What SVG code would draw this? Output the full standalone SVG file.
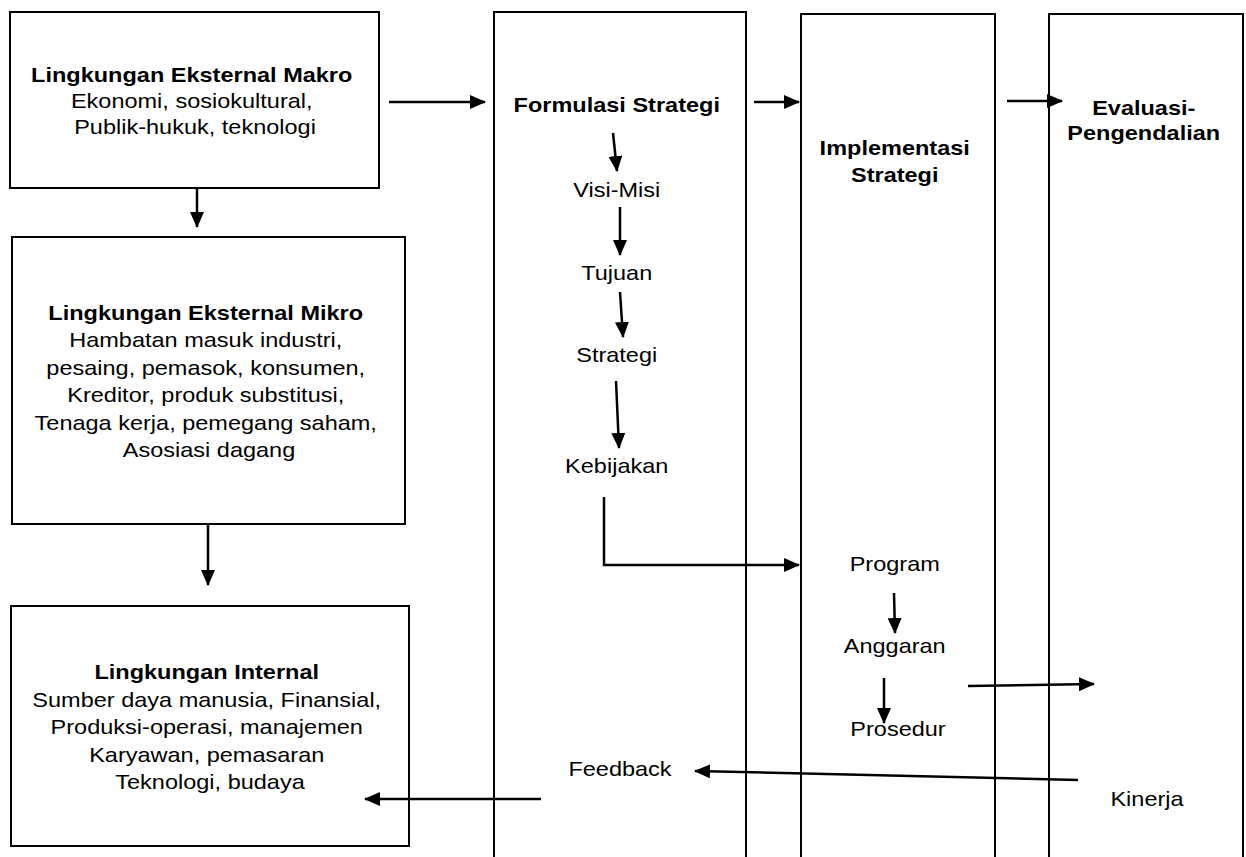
<svg xmlns="http://www.w3.org/2000/svg" width="1246" height="857" viewBox="0 0 1246 857">
<style>
  .box{fill:#fff;stroke:#000;stroke-width:2}
  .col{fill:none;stroke:#000;stroke-width:2}
  .t{font-family:"Liberation Sans",Arial,sans-serif;font-size:21px;fill:#000;text-anchor:middle}
  .b{font-weight:bold}
  .c{fill:none;stroke:#000;stroke-width:2.5}
</style>
<defs>
  <marker id="ah" markerUnits="userSpaceOnUse" markerWidth="16" markerHeight="14" refX="15" refY="7" orient="auto">
    <path d="M0,0 L16,7 L0,14 Z" fill="#000"/>
  </marker>
</defs>
<rect width="1246" height="857" fill="#fff"/>

<g id="makro">
  <rect class="box" x="10" y="12" width="369" height="176"/>
  <text class="t" transform="translate(195,0) scale(1.12,1)">
    <tspan class="b" x="0" y="82">Lingkungan Eksternal Makro</tspan>
    <tspan x="0" y="108">Ekonomi, sosiokultural,</tspan>
    <tspan x="0" y="134">Publik-hukuk, teknologi</tspan>
  </text>
</g>

<g id="mikro">
  <rect class="box" x="12" y="237" width="393" height="287"/>
  <text class="t" transform="translate(209,0) scale(1.12,1)">
    <tspan class="b" x="0" y="320">Lingkungan Eksternal Mikro</tspan>
    <tspan x="0" y="347.5">Hambatan masuk industri,</tspan>
    <tspan x="0" y="375">pesaing, pemasok, konsumen,</tspan>
    <tspan x="0" y="402.5">Kreditor, produk substitusi,</tspan>
    <tspan x="0" y="430">Tenaga kerja, pemegang saham,</tspan>
    <tspan x="0" y="457.5">Asosiasi dagang</tspan>
  </text>
</g>

<g id="internal">
  <rect class="box" x="11" y="606" width="398" height="240"/>
  <text class="t" transform="translate(210,0) scale(1.12,1)">
    <tspan class="b" x="0" y="679">Lingkungan Internal</tspan>
    <tspan x="0" y="707">Sumber daya manusia, Finansial,</tspan>
    <tspan x="0" y="734">Produksi-operasi, manajemen</tspan>
    <tspan x="0" y="762">Karyawan, pemasaran</tspan>
    <tspan x="0" y="789">Teknologi, budaya</tspan>
  </text>
</g>

<g id="formulasi">
  <path class="col" d="M494,857 V12 H746 V857"/>
  <text class="t" transform="translate(620,0) scale(1.12,1)">
    <tspan class="b" x="0" y="112">Formulasi Strategi</tspan>
    <tspan x="0" y="197">Visi-Misi</tspan>
    <tspan x="0" y="280">Tujuan</tspan>
    <tspan x="0" y="362">Strategi</tspan>
    <tspan x="0" y="473">Kebijakan</tspan>
    <tspan x="0" y="776">Feedback</tspan>
  </text>
</g>

<g id="implementasi">
  <path class="col" d="M801,857 V14 H995 V857"/>
  <text class="t" transform="translate(898,0) scale(1.12,1)">
    <tspan class="b" x="0" y="155">Implementasi</tspan>
    <tspan class="b" x="0" y="182">Strategi</tspan>
    <tspan x="0" y="571">Program</tspan>
    <tspan x="0" y="653">Anggaran</tspan>
    <tspan x="0" y="736">Prosedur</tspan>
  </text>
</g>

<g id="evaluasi">
  <path class="col" d="M1049,857 V14 H1243 V857"/>
  <text class="t" transform="translate(1147,0) scale(1.12,1)">
    <tspan class="b" x="0" y="115">Evaluasi-</tspan>
    <tspan class="b" x="0" y="140">Pengendalian</tspan>
    <tspan x="0" y="806">Kinerja</tspan>
  </text>
</g>

<g id="connectors">
  <line class="c" x1="389" y1="102" x2="485" y2="102" marker-end="url(#ah)"/>
  <line class="c" x1="754" y1="102" x2="799" y2="102" marker-end="url(#ah)"/>
  <line class="c" x1="1007" y1="101" x2="1062" y2="101" marker-end="url(#ah)"/>
  <line class="c" x1="197" y1="188" x2="197" y2="227" marker-end="url(#ah)"/>
  <line class="c" x1="208" y1="524" x2="208" y2="585" marker-end="url(#ah)"/>
  <line class="c" x1="613" y1="133" x2="617" y2="171" marker-end="url(#ah)"/>
  <line class="c" x1="620" y1="207" x2="620" y2="255" marker-end="url(#ah)"/>
  <line class="c" x1="620" y1="292" x2="623" y2="337" marker-end="url(#ah)"/>
  <line class="c" x1="616" y1="381" x2="619" y2="448" marker-end="url(#ah)"/>
  <path class="c" d="M604,497 V565 H799" marker-end="url(#ah)"/>
  <line class="c" x1="894" y1="593" x2="895" y2="633" marker-end="url(#ah)"/>
  <line class="c" x1="884" y1="678" x2="884" y2="723" marker-end="url(#ah)"/>
  <line class="c" x1="968" y1="686" x2="1094" y2="684" marker-end="url(#ah)"/>
  <line class="c" x1="1078" y1="780" x2="695" y2="771" marker-end="url(#ah)"/>
  <line class="c" x1="541" y1="799" x2="365" y2="799" marker-end="url(#ah)"/>
</g>
</svg>
